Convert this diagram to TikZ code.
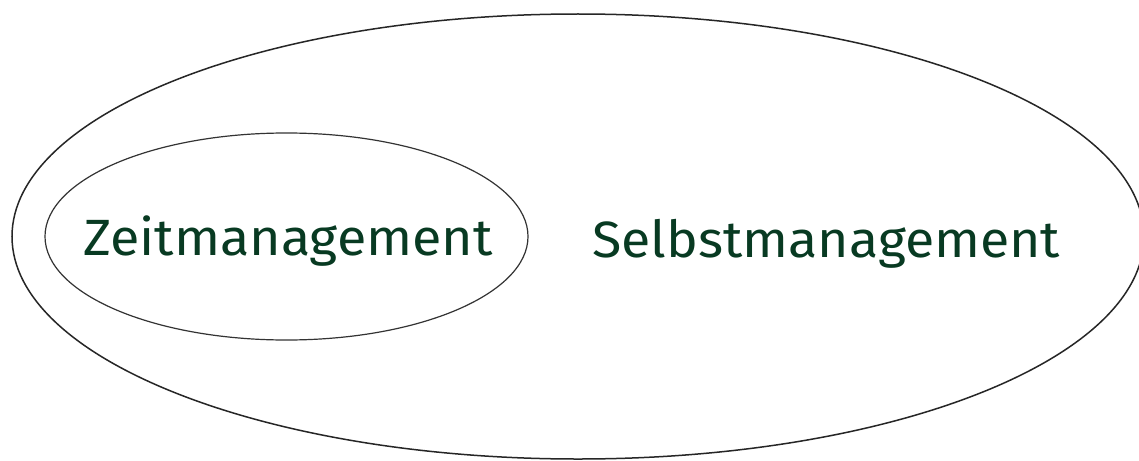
\documentclass[tikz,border=0pt]{standalone}
\usepackage{fontspec}
\setmainfont{Fira Sans}
\definecolor{dunkelgruen}{RGB}{8,58,34}

\begin{document}
\begin{tikzpicture}[x=1pt, y=-1pt]

\clip (0,0) rectangle (1139,460);
\fill[white] (0,0) rectangle (1139,460);

\draw[line width=1.5pt, black!85] (578,236.5) ellipse [x radius=566, y radius=222.5];
\draw[line width=1.2pt, black!80] (286.5,236.5) ellipse [x radius=241.5, y radius=103.5];

\begin{scope}[dunkelgruen, font=\fontsize{51}{51}\selectfont]
\node[anchor=base west, inner sep=0pt, xscale=1.056] (zeit) at (83,255) {Zeitmanagement};
\node[anchor=base west, inner sep=0pt, xscale=1.052] (selbst) at (592,257) {Selbstmanagement};
\end{scope}

\end{tikzpicture}
\end{document}
